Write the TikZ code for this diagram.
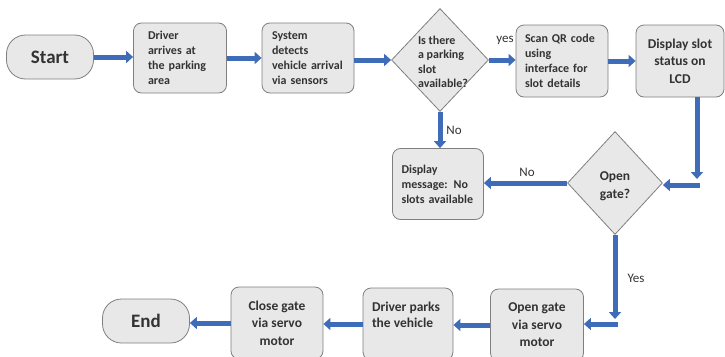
\documentclass[tikz,border=0pt]{standalone}
\usepackage{fontspec}
\setmainfont{Carlito}
\usetikzlibrary{shapes.geometric,arrows.meta,calc}
\definecolor{boxfill}{HTML}{E8E8E8}
\definecolor{boxline}{HTML}{7F7F7F}
\definecolor{arrblue}{HTML}{3F6CB8}
\definecolor{txt}{HTML}{333333}
\tikzset{
  proc/.style={draw=boxline, fill=boxfill, line width=0.8pt, rounded corners=8pt,
    text=txt, font=\fontsize{12}{15}\selectfont\bfseries, inner sep=0pt},
  procbig/.style={proc, font=\fontsize{13.5}{17.5}\selectfont\bfseries},
  term/.style={draw=boxline, fill=boxfill, line width=0.8pt, rounded corners=19pt,
    text=txt, font=\fontsize{19}{22}\selectfont\bfseries, minimum width=87pt, minimum height=44pt},
  dec/.style={diamond, draw=boxline, fill=boxfill, line width=0.8pt, inner sep=0pt,
    minimum width=97pt, minimum height=103pt},
  arr/.style={draw=arrblue, line width=5pt, -{Triangle[length=7pt,width=12pt]}},
  lbl/.style={text=txt, font=\fontsize{13}{15}\selectfont}
}
\begin{document}
\begin{tikzpicture}[x=1pt,y=-1pt]
\useasboundingbox (0,0) rectangle (725,356);
% top row
\node[term] (start) at (50,57) {Start};
\node[proc, minimum width=93pt, minimum height=70pt, text width=64pt, align=left] (driver) at (180,58)
  {Driver\\arrives at\\the parking\\area};
\node[proc, minimum width=92pt, minimum height=70pt, text width=72pt, align=left] (system) at (308,58)
  {System\\detects\\vehicle arrival\\via sensors};
\node[dec] (q1) at (440,60) {};
\node[text=txt, font=\fontsize{12}{14.5}\selectfont\bfseries, align=left] (q1t) at (443,62)
  {Is there\\a parking\\slot\\available?};
\node[proc, minimum width=92pt, minimum height=72pt, text width=74pt, align=left] (scan) at (562,61)
  {Scan QR code\\using\\interface for\\slot details};
\node[procbig, minimum width=88pt, minimum height=72pt, align=center] (disp) at (680,61)
  {Display slot\\status on\\LCD};
% middle row
\node[dec, minimum width=95pt] (q2) at (615,183) {};
\node[text=txt, font=\fontsize{13.5}{18}\selectfont\bfseries, align=center] (q2t) at (615,186)
  {Open\\gate?};
\node[proc, minimum width=91pt, minimum height=71pt, text width=73pt, align=left] (msg) at (438,184)
  {Display\\message: No\\slots available};
% bottom row
\node[procbig, minimum width=93pt, minimum height=72pt, align=center] (open) at (537,325)
  {Open gate\\via servo\\motor};
\node[procbig, minimum width=90pt, minimum height=72pt] (park) at (408,324) {};
\node[text=txt, font=\fontsize{13.5}{16.5}\selectfont\bfseries, align=left] (parkt) at (406,315)
  {Driver parks\\the vehicle};
\node[procbig, minimum width=92pt, minimum height=72pt, align=center] (close) at (277,323)
  {Close gate\\via servo\\motor};
\node[term] (end) at (146,321) {End};
% connectors
\coordinate (c1a) at (697,179);
\coordinate (c1b) at (700,185);
\coordinate (c2a) at (615,319);
\coordinate (c2b) at (618,324);
\draw[arr] (start.east) -- (start.east -| driver.west);
\draw[arr] (driver.east) -- (driver.east -| system.west);
\draw[arr] (system.east |- q1) -- (q1.west);
\draw[arr] (q1.east) -- (q1.east -| scan.west);
\draw[arr] (scan.east) -- (scan.east -| disp.west);
\draw[arr] (disp.south -| c1a) -- (c1a);
\draw[arr] (c1b) -- (c1b -| q2.east);
\draw[arr] (q2.west) -- (q2.west -| msg.east);
\draw[arr] (q1.south) -- (q1.south |- msg.north);
\draw[arr] (q2.south) -- (c2a);
\draw[arr] (c2b) -- (c2b -| open.east);
\draw[arr] (open.west) -- (open.west -| park.east);
\draw[arr] (park.west) -- (park.west -| close.east);
\draw[arr] (close.west) -- (close.west -| end.east);
% labels
\node[lbl] (lyes) at (505,40) {yes};
\node[lbl] (lno1) at (454,130) {No};
\node[lbl] (lno2) at (527,172) {No};
\node[lbl] (lyes2) at (636,278) {Yes};
\end{tikzpicture}
\end{document}
